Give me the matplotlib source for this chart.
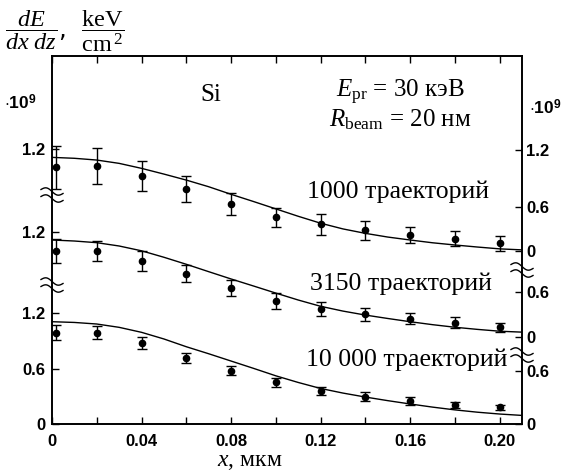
import numpy as np
import matplotlib
matplotlib.use("Agg")
import matplotlib.pyplot as plt

plt.rcParams['mathtext.fontset'] = 'custom'
plt.rcParams['mathtext.rm'] = 'Liberation Serif'
plt.rcParams['mathtext.it'] = 'Liberation Serif:italic'
plt.rcParams['mathtext.bf'] = 'Liberation Sans:bold'

# ---------------- data ----------------
x_pts = [0.002, 0.02, 0.04, 0.06, 0.08, 0.10, 0.12, 0.14, 0.16, 0.18, 0.20]

y_1000 = [1.005, 1.019, 0.911, 0.770, 0.608, 0.464, 0.388, 0.326, 0.275, 0.232, 0.182]
e_1000 = [0.230, 0.195, 0.166, 0.141, 0.119, 0.105, 0.114, 0.103, 0.087, 0.084, 0.079]

y_3150 = [0.994, 0.994, 0.886, 0.742, 0.590, 0.446, 0.363, 0.305, 0.255, 0.214, 0.165]
e_3150 = [0.130, 0.110, 0.107, 0.092, 0.083, 0.087, 0.072, 0.068, 0.060, 0.060, 0.051]

y_10000 = [0.989, 0.989, 0.880, 0.715, 0.577, 0.452, 0.361, 0.296, 0.249, 0.206, 0.181]
e_10000 = [0.078, 0.068, 0.063, 0.057, 0.049, 0.050, 0.045, 0.050, 0.043, 0.029, 0.030]

x_curve = [0.0, 0.01, 0.02, 0.03, 0.04, 0.05, 0.06, 0.07, 0.08, 0.09, 0.10,
           0.11, 0.12, 0.13, 0.14, 0.15, 0.16, 0.17, 0.18, 0.19, 0.20, 0.21]
c_1000 = [1.113, 1.103, 1.084, 1.048, 0.994, 0.932, 0.867, 0.795, 0.713, 0.635, 0.555,
          0.475, 0.400, 0.338, 0.290, 0.250, 0.218, 0.188, 0.164, 0.142, 0.122, 0.111]
c_3150 = [1.110, 1.099, 1.081, 1.045, 0.993, 0.923, 0.847, 0.767, 0.688, 0.612, 0.535,
          0.460, 0.392, 0.340, 0.297, 0.260, 0.225, 0.193, 0.165, 0.142, 0.122, 0.112]
c_10000 = [1.108, 1.100, 1.083, 1.047, 0.993, 0.921, 0.837, 0.761, 0.682, 0.603, 0.522,
           0.450, 0.385, 0.335, 0.292, 0.253, 0.217, 0.183, 0.153, 0.128, 0.108, 0.093]

labels = ["1000 траекторий", "3150 траекторий", "10 000 траекторий"]
offsets = [1.775, 0.883, 0.0]  # vertical offsets of the stacked panels

x_ticks = [0, 0.02, 0.04, 0.06, 0.08, 0.10, 0.12, 0.14, 0.16, 0.18, 0.20]
x_ticklabels = ["0", "", "0.04", "", "0.08", "", "0.12", "", "0.16", "", "0.20"]

left_tick_vals = [0, 0.6, 1.2, 1.2, 1.2]
left_tick_off = [0.0, 0.0, 0.0, 0.883, 1.775]
left_ticklabels = ["0", "0.6", "1.2", "1.2", "1.2"]

right_tick_pos = [0, 0.574, 0.942, 1.430, 1.874, 2.350, 2.967]
right_ticklabels = ["0", "0.6", "0", "0.6", "0", "0.6", "1.2"]

# ---------------- figure ----------------
W, H = 566, 475
fig = plt.figure(figsize=(W / 100, H / 100), dpi=100)
ax_l, ax_r, ax_b, ax_t = 52, 522, 424, 56
ax = fig.add_axes([ax_l / W, (H - ax_b) / H, (ax_r - ax_l) / W, (ax_b - ax_t) / H])

series = [(y_1000, e_1000, c_1000), (y_3150, e_3150, c_3150), (y_10000, e_10000, c_10000)]
for (yv, ev, cv), off in zip(series, offsets):
    ax.plot(x_curve, np.array(cv) + off, color='black', lw=1.0)
    ax.errorbar(x_pts, np.array(yv) + off, yerr=ev, fmt='o', color='black',
                ms=4.5, capsize=3.5, elinewidth=1.0, capthick=1.0)

ax.set_xlim(0, 0.21)
ax.set_ylim(0, 3.986)

ax.set_xticks(x_ticks)
ax.set_xticklabels(x_ticklabels, fontfamily='Liberation Sans', fontweight='bold', fontsize=12)
ax.set_yticks([v + o for v, o in zip(left_tick_vals, left_tick_off)])
ax.set_yticklabels(left_ticklabels, fontfamily='Liberation Sans', fontweight='bold', fontsize=12)
ax.tick_params(axis='x', direction='in', length=5, width=1, top=True, pad=7)
ax.tick_params(axis='y', direction='in', length=5, width=1, pad=5)

axr = ax.twinx()
axr.set_ylim(ax.get_ylim())
axr.set_yticks(right_tick_pos)
axr.set_yticklabels(right_ticklabels, fontfamily='Liberation Sans', fontweight='bold', fontsize=12)
axr.tick_params(axis='y', direction='in', length=5, width=1, pad=3)

for a in (ax, axr):
    for s in a.spines.values():
        s.set_linewidth(1.2)

# break marks
def brk(xa, ya):
    t = np.linspace(0, 1, 40)
    wpx, apx, gap = 22, 2.6, 7
    axw, axh = ax_r - ax_l, ax_b - ax_t
    for k in (-0.5, 0.5):
        xs = xa + (t - 0.5) * wpx / axw
        ys = ya + (k * gap + apx * np.sin(2 * np.pi * t) - (t - 0.5) * 4) / axh
        ax.plot(xs, ys, transform=ax.transAxes, color='black', lw=1.0, clip_on=False)

for py in (195, 285):
    brk(0.0, (ax_b - py) / (ax_b - ax_t))
for py in (270, 355):
    brk(1.0, (ax_b - py) / (ax_b - ax_t))

# texts
serif = 'Liberation Serif'
def ftext(px, py, s, **kw):
    fig.text(px / W, 1 - py / H, s, **kw)

ftext(211, 95, "Si", fontfamily=serif, fontsize=18, ha='center', va='center')
ftext(400, 92, r"$E_{\mathrm{pr}}$ = 30 кэВ", fontfamily=serif, fontsize=18, ha='center', va='center')
ftext(400, 120, r"$R_{\mathrm{beam}}$ = 20 нм", fontfamily=serif, fontsize=18, ha='center', va='center')
ftext(398, 192, labels[0], fontfamily=serif, fontsize=18.5, ha='center', va='center')
ftext(401, 284, labels[1], fontfamily=serif, fontsize=18.5, ha='center', va='center')
ftext(407, 360, labels[2], fontfamily=serif, fontsize=18.5, ha='center', va='center')

ftext(5, 31, r"$\dfrac{dE}{dx\ dz}$,  $\dfrac{\mathrm{keV}}{\mathrm{cm}^{\,2}}$", fontsize=17.5, ha='left', va='center')
ftext(4, 103, r"$\cdot$10$^{\mathbf{9}}$", fontfamily='Liberation Sans', fontweight='bold', fontsize=12.5, ha='left', va='center')
ftext(529, 108, r"$\cdot$10$^{\mathbf{9}}$", fontfamily='Liberation Sans', fontweight='bold', fontsize=12.5, ha='left', va='center')
ftext(250, 461, r"$x$, мкм", fontfamily=serif, fontsize=17, ha='center', va='center')

fig.savefig("out.png", dpi=100)
